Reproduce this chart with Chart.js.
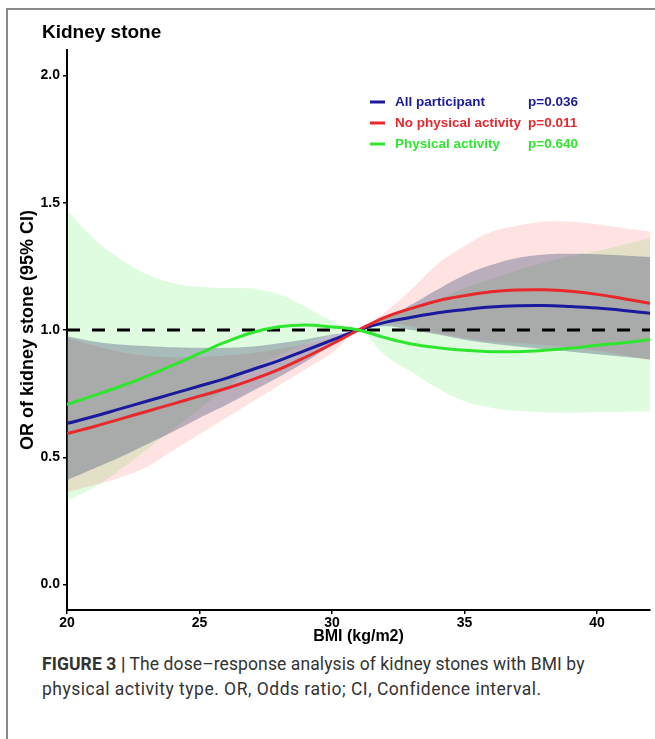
<!DOCTYPE html>
<html>
<head>
<meta charset="utf-8">
<script src="https://cdn.jsdelivr.net/npm/chart.js@4"></script>
<style>
  body { margin:0; width:655px; height:739px; position:relative; background:#fff; overflow:hidden; font-family:"Liberation Sans", Arial, sans-serif; }
  .frame { position:absolute; left:6px; top:8px; width:649px; height:731px; border-left:2px solid #8a8a8a; border-top:2px solid #8a8a8a; }
  #chartTitle { position:absolute; left:42px; top:21px; font-weight:bold; font-size:19px; color:#000; }
  #c { position:absolute; left:0; top:0; }
  .caption { position:absolute; left:42px; top:652px; font-family:Roboto, "Liberation Sans", sans-serif; font-size:17.5px; line-height:25px; color:#333; white-space:nowrap; }
  .caption span { display:block; }
  .caption b { font-weight:bold; }
</style>
</head>
<body>
<div class="frame"></div>
<canvas id="c" width="655" height="650"></canvas>
<div id="chartTitle">Kidney stone</div>
<div class="caption"><span style="letter-spacing:0.1px"><b>FIGURE 3 |</b> The dose–response analysis of kidney stones with BMI by</span><span style="letter-spacing:0.5px">physical activity type. OR, Odds ratio; CI, Confidence interval.</span></div>
<script>
// BMI points
const bmi = [20,21,22,23,24,25,26,27,28,29,30,31,32,33,34,35,36,37,38,39,40,41,42];

// All participant
const allEst = [0.633,0.66,0.69,0.72,0.75,0.78,0.81,0.845,0.88,0.92,0.96,1.0,1.03,1.05,1.068,1.08,1.09,1.095,1.096,1.092,1.086,1.077,1.066];
const allLow = [0.41,0.455,0.5,0.55,0.6,0.654,0.705,0.76,0.815,0.875,0.94,1.0,1.015,1.0,0.982,0.962,0.947,0.935,0.925,0.915,0.905,0.895,0.885];
const allUp  = [0.975,0.955,0.943,0.937,0.932,0.93,0.93,0.935,0.948,0.963,0.982,1.0,1.045,1.1,1.16,1.215,1.255,1.283,1.297,1.3,1.298,1.293,1.287];

// No physical activity
const noEst = [0.593,0.62,0.65,0.68,0.71,0.74,0.77,0.805,0.845,0.893,0.945,1.0,1.05,1.085,1.115,1.135,1.15,1.157,1.158,1.152,1.14,1.123,1.105];
const noLow = [0.363,0.39,0.42,0.462,0.526,0.59,0.654,0.718,0.782,0.846,0.91,1.0,1.025,1.015,0.987,0.969,0.955,0.949,0.941,0.931,0.918,0.901,0.88];
const noUp  = [0.97,0.94,0.915,0.9,0.893,0.895,0.9,0.91,0.925,0.945,0.97,1.0,1.07,1.16,1.26,1.33,1.385,1.41,1.425,1.425,1.415,1.4,1.387];

// Physical activity
const paEst = [0.707,0.742,0.778,0.818,0.862,0.908,0.953,0.99,1.013,1.02,1.012,1.0,0.97,0.945,0.93,0.92,0.915,0.915,0.92,0.928,0.94,0.95,0.963];
const paLow = [0.33,0.38,0.45,0.53,0.61,0.69,0.77,0.85,0.9,0.945,0.98,1.0,0.9,0.835,0.77,0.72,0.695,0.682,0.677,0.676,0.677,0.679,0.681];
const paUp  = [1.47,1.36,1.28,1.22,1.185,1.17,1.165,1.162,1.14,1.09,1.035,1.0,1.05,1.085,1.12,1.165,1.2,1.235,1.265,1.29,1.31,1.335,1.36];

const refLine = [1.0, 1.0];
const refX = [20, 42];

const xTicks = [20, 25, 30, 35, 40];
const yTicks = [0.0, 0.5, 1.0, 1.5, 2.0];

const seriesNames = ['All participant', 'No physical activity', 'Physical activity'];
const pValues = ['p=0.036', 'p=0.011', 'p=0.640'];

const lineColors = ['#1a1a9e', '#e8282c', '#2ee62e'];
const bandColors = ['rgba(67,78,117,0.36)', 'rgba(255,0,0,0.11)', 'rgba(0,230,0,0.12)'];

function pts(ys, xs) {
    xs = xs || bmi;
    return ys.map((y, i) => ({x: xs[i], y: y}));
}

function line(data, color) {
    return { data: pts(data), borderColor: color, borderWidth: 3, pointRadius: 0, fill: false, tension: 0.4 };
}
function bandEdge(data, color, fill) {
    return { data: pts(data), borderWidth: 0, borderColor: 'rgba(0,0,0,0)', backgroundColor: color, pointRadius: 0, fill: fill, tension: 0.4 };
}

// legend drawn inside the plot
const legendPlugin = {
    id: 'sideLegend',
    afterDraw(chart) {
        const ctx = chart.ctx;
        const a = chart.chartArea;
        ctx.save();
        ctx.font = 'bold 13.5px "Liberation Sans", Arial, sans-serif';
        ctx.textBaseline = 'middle';
        for (let i = 0; i < seriesNames.length; i++) {
            const y = a.top + 52 + i * 21;
            ctx.strokeStyle = lineColors[i];
            ctx.lineWidth = 3;
            ctx.beginPath();
            ctx.moveTo(a.left + 303, y);
            ctx.lineTo(a.left + 318, y);
            ctx.stroke();
            ctx.fillStyle = lineColors[i];
            ctx.fillText(seriesNames[i], a.left + 328, y);
            ctx.fillText(pValues[i], a.left + 461, y);
        }
        ctx.restore();
    }
};

const tickFont = { family: '"Liberation Sans", Arial, sans-serif', size: 14, weight: 'bold' };
const titleFont = { family: '"Liberation Sans", Arial, sans-serif', size: 16, weight: 'bold' };

new Chart(document.getElementById('c'), {
    type: 'line',
    data: {
        datasets: [
            line(paEst, lineColors[2]),
            line(noEst, lineColors[1]),
            line(allEst, lineColors[0]),
            { data: pts(refLine, refX), borderColor: '#000', borderWidth: 3, borderDash: [13, 12], pointRadius: 0, fill: false },
            bandEdge(allUp, bandColors[0], '+1'),
            bandEdge(allLow, bandColors[0], false),
            bandEdge(noUp, bandColors[1], '+1'),
            bandEdge(noLow, bandColors[1], false),
            bandEdge(paUp, bandColors[2], '+1'),
            bandEdge(paLow, bandColors[2], false)
        ]
    },
    options: {
        responsive: false,
        animation: false,
        devicePixelRatio: 1,
        layout: { padding: { top: 50, right: 5, left: 0, bottom: 0 } },
        plugins: { legend: { display: false }, tooltip: { enabled: false }, title: { display: false } },
        scales: {
            x: {
                type: 'linear', min: 20, max: 42,
                afterBuildTicks: s => { s.ticks = xTicks.map(v => ({ value: v })); },
                afterFit: s => { s.height = 40; },
                ticks: { font: tickFont, color: '#000', padding: 1, maxRotation: 0 },
                grid: { drawOnChartArea: false, drawTicks: true, tickLength: 4, color: '#000', lineWidth: 1.5 },
                border: { display: true, color: '#000', width: 2 },
                title: { display: true, text: 'BMI (kg/m2)', font: titleFont, color: '#000', padding: { top: 0, bottom: 4 } }
            },
            y: {
                type: 'linear', min: -0.1, max: 2.1,
                afterBuildTicks: s => { s.ticks = yTicks.map(v => ({ value: v })); },
                afterFit: s => { s.width = 67; },
                ticks: { font: tickFont, color: '#000', padding: 3, callback: v => v.toFixed(1) },
                grid: { drawOnChartArea: false, drawTicks: true, tickLength: 4, color: '#000', lineWidth: 1.5 },
                border: { display: true, color: '#000', width: 2 },
                title: { display: true, text: 'OR of kidney stone (95% CI)', font: { family: '"Liberation Sans", Arial, sans-serif', size: 18, weight: 'bold' }, color: '#000', padding: { top: 17, bottom: 0 } }
            }
        }
    },
    plugins: [legendPlugin]
});
</script>
</body>
</html>
